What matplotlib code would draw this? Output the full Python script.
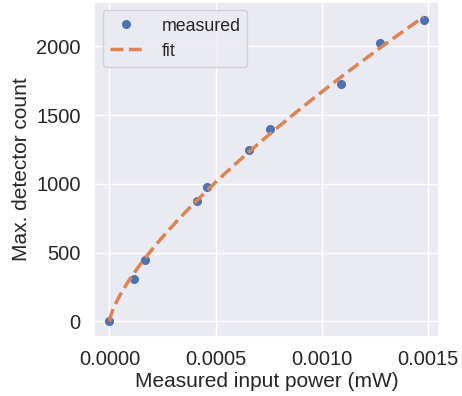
import numpy as np
import matplotlib
matplotlib.use("Agg")
import matplotlib.pyplot as plt
import seaborn as sns

sns.set_theme(style="darkgrid")
plt.rcParams["font.family"] = ["Liberation Sans", "DejaVu Sans"]

# measured points
power_mw = [0.0, 0.000114, 0.000168, 0.000412, 0.000462, 0.000658,
            0.000759, 0.001089, 0.001277, 0.001481]
counts = [0, 310, 447, 878, 974, 1244, 1400, 1729, 2026, 2193]

# power-law fit  count = a * P**b, least squares in linear space
p = np.array(power_mw)
c = np.array(counts, dtype=float)
best = None
for b in np.linspace(0.4, 1.0, 601):
    xb = p ** b
    a = (c @ xb) / (xb @ xb)
    sse = np.sum((c - a * xb) ** 2)
    if best is None or sse < best[0]:
        best = (sse, a, b)
_, a_fit, b_fit = best
x_fit = np.linspace(0, max(power_mw), 300)
y_fit = a_fit * x_fit ** b_fit

fig, ax = plt.subplots(figsize=(4.62, 3.96), dpi=100)
fig.subplots_adjust(left=0.203, right=0.951, top=0.996, bottom=0.15)

ax.plot(power_mw, counts, "o", color="#4C72B0", markersize=5.5, label="measured")
ax.plot(x_fit, y_fit, "--", color="#DD8452", lw=2.5, label="fit")

ax.set_xticks([0, 0.0005, 0.001, 0.0015])
ax.set_xlabel("Measured input power (mW)", fontsize=15, labelpad=2)
ax.set_ylabel("Max. detector count", fontsize=15)
ax.tick_params(labelsize=14.5)
ax.legend(loc="upper left", fontsize=12.8, handlelength=1.8,
          handletextpad=1.1, labelspacing=0.45)

fig.savefig("out.png", dpi=100)
